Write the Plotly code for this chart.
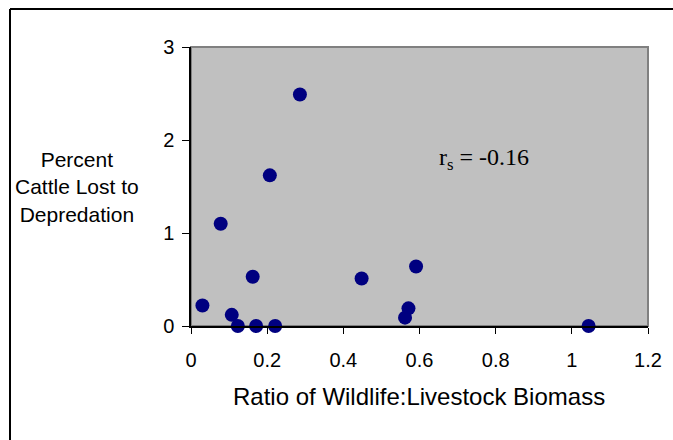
import plotly.graph_objects as go

ratio = [0.03, 0.078, 0.107, 0.123, 0.162, 0.171, 0.207, 0.221, 0.286, 0.448, 0.562, 0.571, 0.591, 1.044]
pct_lost = [0.22, 1.10, 0.12, 0.0, 0.53, 0.0, 1.62, 0.0, 2.49, 0.51, 0.09, 0.19, 0.64, 0.0]

x_title = "Ratio of Wildlife:Livestock Biomass"
y_title = "Percent<br>Cattle Lost to<br>Depredation"
stat_text = "r<sub>s</sub> = -0.16"

W, H = 673, 440
L, R, T, B = 191, 648, 47, 326
pw, ph = R - L, B - T

def px2x(px):
    return (px - L) / pw

def px2y(py):
    return (B - py) / ph

fig = go.Figure()
fig.add_trace(go.Scatter(
    x=ratio, y=pct_lost, mode="markers",
    marker=dict(color="#000080", size=14, line=dict(width=0)),
    cliponaxis=False, showlegend=False,
))

font = "Liberation Sans, Arial, sans-serif"
fig.update_layout(
    width=W, height=H,
    margin=dict(l=L, r=W - R, t=T, b=H - B),
    paper_bgcolor="white",
    plot_bgcolor="#C0C0C0",
    font=dict(family=font, color="black"),
    xaxis=dict(range=[0, 1.2], dtick=0.2, tick0=0, showgrid=False, zeroline=False,
               showline=True, linecolor="black", linewidth=1.5,
               ticks="outside", ticklen=6, tickcolor="black", tickwidth=1,
               tickfont=dict(size=20, family=font), ticklabelstandoff=9,
               tickformat="~g"),
    yaxis=dict(range=[0, 3], dtick=1, tick0=0, showgrid=False, zeroline=False,
               showline=True, linecolor="black", linewidth=1.5,
               ticks="outside", ticklen=7, tickcolor="black", tickwidth=1,
               tickfont=dict(size=20, family=font), ticklabelstandoff=4),
    shapes=[
        dict(type="rect", xref="paper", yref="paper", x0=0, x1=1, y0=0, y1=1,
             line=dict(color="#808080", width=2), layer="below"),
        dict(type="line", xref="paper", yref="paper",
             x0=px2x(10), x1=px2x(W + 5), y0=px2y(9), y1=px2y(9),
             line=dict(color="black", width=2)),
        dict(type="line", xref="paper", yref="paper",
             x0=px2x(10), x1=px2x(10), y0=px2y(9), y1=px2y(H + 5),
             line=dict(color="black", width=2)),
    ],
    annotations=[
        dict(text=x_title, xref="paper", yref="paper", x=px2x(419), y=px2y(396),
             showarrow=False, xanchor="center", yanchor="middle",
             font=dict(size=24, family=font)),
        dict(text=y_title, xref="paper", yref="paper", x=px2x(77), y=px2y(187),
             showarrow=False, xanchor="center", yanchor="middle", align="center",
             font=dict(size=21, family=font)),
        dict(text=stat_text, xref="paper", yref="paper", x=px2x(437), y=px2y(159),
             showarrow=False, xanchor="left", yanchor="middle",
             font=dict(size=24, family="Liberation Serif, Times New Roman, serif")),
    ],
)

fig.write_html("out.html")
